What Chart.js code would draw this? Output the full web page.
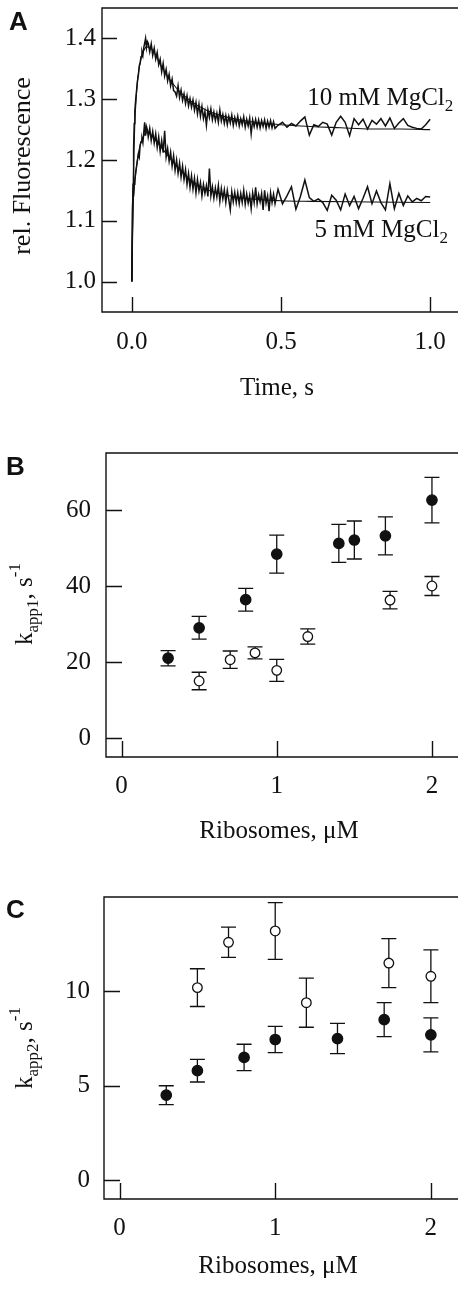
<!DOCTYPE html>
<html>
<head>
<meta charset="utf-8">
<script src="https://cdn.jsdelivr.net/npm/chart.js@4.4.0/dist/chart.umd.min.js"></script>
<style>
html, body { margin: 0; padding: 0; background: #fff; overflow: hidden; width: 458px; height: 1290px; position: relative; }
canvas { position: absolute; left: 0; }
</style>
</head>
<body>
<canvas id="chartA" width="470" height="420" style="top:0"></canvas>
<canvas id="chartB" width="470" height="430" style="top:420px"></canvas>
<canvas id="chartC" width="470" height="440" style="top:850px"></canvas>
<script>
"use strict";

// ---- panel A: stopped-flow traces ----
var rawTime = [0, 0.002, 0.004, 0.006, 0.008, 0.010, 0.013, 0.016, 0.019, 0.022,
    0.025, 0.028, 0.031, 0.034, 0.037, 0.040, 0.043, 0.046, 0.049, 0.052,
    0.055, 0.060, 0.065, 0.070, 0.075, 0.080, 0.085, 0.090, 0.095, 0.100,
    0.105, 0.110, 0.115, 0.120, 0.125, 0.130, 0.135, 0.140, 0.145, 0.150,
    0.155, 0.160, 0.165, 0.170, 0.175, 0.180, 0.185, 0.190, 0.195, 0.200,
    0.205, 0.210, 0.215, 0.220, 0.225, 0.230, 0.235, 0.240, 0.245, 0.250,
    0.255, 0.260, 0.265, 0.270, 0.275, 0.280, 0.285, 0.290, 0.295, 0.300,
    0.305, 0.310, 0.315, 0.320, 0.325, 0.330, 0.335, 0.340, 0.345, 0.350,
    0.355, 0.360, 0.365, 0.370, 0.375, 0.380, 0.385, 0.390, 0.395, 0.400,
    0.405, 0.410, 0.415, 0.420, 0.425, 0.430, 0.435, 0.440, 0.445, 0.450,
    0.455, 0.460, 0.465, 0.470, 0.475, 0.480,
    0.490, 0.505, 0.520, 0.535, 0.550, 0.565, 0.580, 0.595, 0.610, 0.625,
    0.640, 0.655, 0.670, 0.685, 0.700, 0.715, 0.730, 0.745, 0.760, 0.775,
    0.790, 0.805, 0.820, 0.835, 0.850, 0.865, 0.880, 0.895, 0.910, 0.925,
    0.940, 0.955, 0.970, 0.985, 1.000];

var raw10 = [1.000, 1.080, 1.160, 1.220, 1.260, 1.280, 1.300, 1.315, 1.330, 1.340,
    1.355, 1.360, 1.370, 1.378, 1.372, 1.385, 1.392, 1.400, 1.385, 1.395,
    1.392, 1.378, 1.391, 1.372, 1.384, 1.366, 1.377, 1.357, 1.366, 1.345,
    1.359, 1.338, 1.349, 1.330, 1.341, 1.322, 1.333, 1.314, 1.312, 1.305,
    1.322, 1.303, 1.315, 1.298, 1.309, 1.293, 1.306, 1.289, 1.301, 1.287,
    1.299, 1.282, 1.295, 1.276, 1.292, 1.272, 1.288, 1.268, 1.280, 1.257,
    1.283, 1.270, 1.284, 1.266, 1.279, 1.265, 1.277, 1.262, 1.282, 1.264,
    1.275, 1.260, 1.273, 1.258, 1.272, 1.261, 1.274, 1.257, 1.270, 1.259,
    1.272, 1.256, 1.268, 1.258, 1.271, 1.254, 1.267, 1.256, 1.269, 1.243,
    1.266, 1.255, 1.267, 1.254, 1.266, 1.253, 1.265, 1.255, 1.266, 1.252,
    1.264, 1.254, 1.265, 1.253, 1.263, 1.252,
    1.257, 1.262, 1.254, 1.260, 1.256, 1.264, 1.271, 1.241, 1.258, 1.255,
    1.262, 1.259, 1.241, 1.262, 1.272, 1.262, 1.240, 1.268, 1.258, 1.267,
    1.251, 1.265, 1.259, 1.268, 1.256, 1.269, 1.252, 1.261, 1.268, 1.257,
    1.254, 1.252, 1.251, 1.258, 1.267];

var raw5 = [1.000, 1.120, 1.145, 1.140, 1.160, 1.165, 1.180, 1.190, 1.200, 1.210,
    1.205, 1.225, 1.230, 1.235, 1.228, 1.245, 1.262, 1.240, 1.255, 1.250,
    1.238, 1.252, 1.232, 1.247, 1.228, 1.243, 1.221, 1.238, 1.214, 1.232,
    1.212, 1.248, 1.205, 1.219, 1.198, 1.213, 1.190, 1.207, 1.183, 1.200,
    1.178, 1.195, 1.172, 1.190, 1.168, 1.184, 1.160, 1.178, 1.155, 1.174,
    1.152, 1.170, 1.146, 1.168, 1.149, 1.163, 1.141, 1.160, 1.145, 1.158,
    1.140, 1.186, 1.141, 1.156, 1.137, 1.154, 1.139, 1.158, 1.132, 1.153,
    1.136, 1.151, 1.130, 1.150, 1.135, 1.118, 1.148, 1.131, 1.147, 1.130,
    1.146, 1.128, 1.145, 1.130, 1.150, 1.127, 1.144, 1.129, 1.142, 1.120,
    1.146, 1.130, 1.155, 1.128, 1.143, 1.131, 1.145, 1.118, 1.150, 1.129,
    1.141, 1.116, 1.146, 1.130, 1.144, 1.128,
    1.152, 1.128, 1.141, 1.156, 1.119, 1.140, 1.167, 1.138, 1.132, 1.136,
    1.130, 1.117, 1.142, 1.134, 1.118, 1.144, 1.125, 1.140, 1.120, 1.137,
    1.156, 1.128, 1.149, 1.130, 1.118, 1.161, 1.120, 1.145, 1.125, 1.141,
    1.131, 1.137, 1.133, 1.140, 1.139];

var fitTime10 = [0, 0.005, 0.01, 0.015, 0.02, 0.03, 0.04, 0.05, 0.06, 0.07, 0.1, 0.15,
    0.2, 0.25, 0.3, 0.35, 0.4, 0.45, 0.5, 0.6, 0.7, 0.8, 0.9, 1.0];
var fit10 = [1.0, 1.17, 1.26, 1.305, 1.335, 1.365, 1.38, 1.386, 1.385, 1.381, 1.353, 1.318,
    1.296, 1.282, 1.273, 1.267, 1.263, 1.26, 1.258, 1.255, 1.253, 1.251, 1.251, 1.25];
var fitTime5 = [0, 0.003, 0.006, 0.01, 0.02, 0.03, 0.04, 0.05, 0.06, 0.07, 0.1, 0.15,
    0.2, 0.25, 0.3, 0.35, 0.4, 0.5, 0.6, 0.8, 1.0];
var fit5 = [1.0, 1.11, 1.145, 1.165, 1.205, 1.228, 1.24, 1.245, 1.243, 1.238, 1.22, 1.19,
    1.166, 1.152, 1.144, 1.139, 1.136, 1.133, 1.132, 1.131, 1.13];

var ticksTimeA = [0, 0.5, 1.0];
var ticksFluoA = [1.0, 1.1, 1.2, 1.3, 1.4];

// ---- panel B: kapp1 vs ribosomes ----
var riboFilledB = [0.3, 0.5, 0.8, 1.0, 1.4, 1.5, 1.7, 2.0];
var kapp1Filled = [21, 29, 36.4, 48.4, 51.2, 52.1, 53.2, 62.6];
var kapp1FilledErr = [2, 3, 3, 5, 5, 5, 5, 6];
var riboOpenB = [0.5, 0.7, 0.86, 1.0, 1.2, 1.73, 2.0];
var kapp1Open = [15, 20.6, 22.4, 17.8, 26.7, 36.3, 40];
var kapp1OpenErr = [2.3, 2.3, 1.6, 2.9, 2, 2.3, 2.5];
var ticksRibo = [0, 1, 2];
var ticksKapp1 = [0, 20, 40, 60];

// ---- panel C: kapp2 vs ribosomes ----
var riboFilledC = [0.3, 0.5, 0.8, 1.0, 1.4, 1.7, 2.0];
var kapp2Filled = [4.5, 5.8, 6.5, 7.45, 7.5, 8.5, 7.7];
var kapp2FilledErr = [0.5, 0.6, 0.7, 0.7, 0.8, 0.9, 0.9];
var riboOpenC = [0.5, 0.7, 1.0, 1.2, 1.73, 2.0];
var kapp2Open = [10.2, 12.6, 13.2, 9.4, 11.5, 10.8];
var kapp2OpenErr = [1.0, 0.8, 1.5, 1.3, 1.3, 1.4];
var ticksKapp2 = [0, 5, 10];

var INK = '#111';
var SERIF = '"Liberation Serif", "Times New Roman", serif';

Chart.defaults.font.family = SERIF;
Chart.defaults.color = INK;

function pairs(xs, ys) {
    return xs.map(function (x, i) { return {x: x, y: ys[i]}; });
}

function drawRich(ctx, parts, x, y, align) {
    var total = 0;
    parts.forEach(function (p) {
        ctx.font = p[1] + 'px ' + SERIF;
        total += ctx.measureText(p[0]).width;
    });
    var cx = align === 'center' ? x - total / 2 : x;
    parts.forEach(function (p) {
        ctx.font = p[1] + 'px ' + SERIF;
        ctx.fillText(p[0], cx, y + p[2]);
        cx += ctx.measureText(p[0]).width;
    });
}

// axis frame with inward ticks, error bars and all free text
function panelPlugin(cfg) {
    return {
        id: 'panel',
        beforeDatasetsDraw: function (chart) {
            var ctx = chart.ctx;
            var xs = chart.scales.x, ys = chart.scales.y;
            ctx.save();
            ctx.strokeStyle = INK;
            ctx.lineWidth = 1.3;
            chart.data.datasets.forEach(function (ds) {
                if (!ds.errors) return;
                ds.data.forEach(function (p, i) {
                    var px = xs.getPixelForValue(p.x);
                    var y1 = ys.getPixelForValue(p.y + ds.errors[i]);
                    var y2 = ys.getPixelForValue(p.y - ds.errors[i]);
                    ctx.beginPath();
                    ctx.moveTo(px, y1); ctx.lineTo(px, y2);
                    ctx.moveTo(px - 7.5, y1); ctx.lineTo(px + 7.5, y1);
                    ctx.moveTo(px - 7.5, y2); ctx.lineTo(px + 7.5, y2);
                    ctx.stroke();
                });
            });
            ctx.restore();
        },
        afterDraw: function (chart) {
            var ctx = chart.ctx, a = chart.chartArea;
            var xs = chart.scales.x, ys = chart.scales.y;
            ctx.save();
            ctx.strokeStyle = INK;
            ctx.lineWidth = 1.4;
            ctx.beginPath();
            ctx.rect(a.left, a.top, a.right - a.left, a.bottom - a.top);
            ys.ticks.forEach(function (t) {
                var y = Math.round(ys.getPixelForValue(t.value)) + 0.5;
                ctx.moveTo(a.left, y); ctx.lineTo(a.left + cfg.tick, y);
            });
            xs.ticks.forEach(function (t) {
                var x = Math.round(xs.getPixelForValue(t.value)) + 0.5;
                ctx.moveTo(x, a.bottom); ctx.lineTo(x, a.bottom - cfg.tick);
            });
            ctx.stroke();

            ctx.fillStyle = INK;
            ctx.textBaseline = 'alphabetic';
            ctx.textAlign = 'left';
            ctx.font = 'bold 26px "Liberation Sans", Arial, sans-serif';
            ctx.fillText(cfg.letter[0], cfg.letter[1], cfg.letter[2]);

            drawRich(ctx, cfg.xTitle.parts, cfg.xTitle.x, cfg.xTitle.y, 'center');

            ctx.save();
            ctx.translate(cfg.yTitle.x, cfg.yTitle.y);
            ctx.rotate(-Math.PI / 2);
            drawRich(ctx, cfg.yTitle.parts, 0, 0, 'center');
            ctx.restore();

            (cfg.notes || []).forEach(function (n) {
                drawRich(ctx, n.parts, xs.getPixelForValue(n.x), ys.getPixelForValue(n.y), 'left');
            });
            ctx.restore();
        }
    };
}

function axis(min, max, tickValues, decimals, opts) {
    return {
        type: 'linear',
        min: min,
        max: max,
        grid: {display: false, drawTicks: false},
        border: {display: false},
        ticks: {
            font: {size: 25, family: SERIF},
            color: INK,
            padding: opts.padding,
            callback: function (v) { return decimals ? v.toFixed(decimals) : String(v); }
        },
        afterBuildTicks: function (scale) {
            scale.ticks = tickValues.map(function (v) { return {value: v}; });
        },
        afterFit: function (scale) {
            if (opts.width) scale.width = opts.width;
            if (opts.height) scale.height = opts.height;
            scale.paddingTop = 0; scale.paddingBottom = 0;
            scale.paddingLeft = 0; scale.paddingRight = 0;
        }
    };
}

function baseOptions(scales, pad) {
    return {
        responsive: false,
        animation: false,
        devicePixelRatio: 1,
        layout: {padding: pad},
        plugins: {legend: {display: false}, tooltip: {enabled: false}},
        scales: scales
    };
}

function traceSet(xs, ys, width, smooth) {
    return {
        data: pairs(xs, ys),
        borderColor: INK,
        borderWidth: width,
        pointRadius: 0,
        fill: false,
        tension: 0,
        cubicInterpolationMode: smooth ? 'monotone' : 'default'
    };
}

function pointSet(xs, ys, errs, filled) {
    return {
        data: pairs(xs, ys),
        errors: errs,
        pointStyle: 'circle',
        pointRadius: filled ? 5.2 : 4.8,
        pointBorderWidth: 1.3,
        pointBackgroundColor: filled ? INK : '#fff',
        pointBorderColor: INK,
        showLine: false
    };
}

new Chart(document.getElementById('chartA'), {
    type: 'line',
    data: {datasets: [
        traceSet(fitTime10, fit10, 1.1, true),
        traceSet(fitTime5, fit5, 1.1, true),
        traceSet(rawTime, raw10, 1.5, false),
        traceSet(rawTime, raw5, 1.5, false)
    ]},
    options: baseOptions({
        x: axis(-0.1, 1.1, ticksTimeA, 1, {height: 60, padding: 15}),
        y: axis(0.95, 1.45, ticksFluoA, 1, {width: 102, padding: 6})
    }, {left: 0, top: 8, right: 10, bottom: 48}),
    plugins: [panelPlugin({
        tick: 15,
        letter: ['A', 9, 30],
        xTitle: {x: 277, y: 395, parts: [['Time, s', 25, 0]]},
        yTitle: {x: 30, y: 166, parts: [['rel. Fluorescence', 26, 0]]},
        notes: [
            {x: 0.588, y: 1.291, parts: [['10 mM MgCl', 25, 0], ['2', 17, 6]]},
            {x: 0.612, y: 1.074, parts: [['5 mM MgCl', 25, 0], ['2', 17, 6]]}
        ]
    })]
});

new Chart(document.getElementById('chartB'), {
    type: 'scatter',
    data: {datasets: [
        pointSet(riboFilledB, kapp1Filled, kapp1FilledErr, true),
        pointSet(riboOpenB, kapp1Open, kapp1OpenErr, false)
    ]},
    options: baseOptions({
        x: axis(-0.1, 2.2, ticksRibo, 0, {height: 60, padding: 14}),
        y: axis(-5, 75, ticksKapp1, 0, {width: 106, padding: 15})
    }, {left: 0, top: 33, right: 7, bottom: 33}),
    plugins: [panelPlugin({
        tick: 16,
        letter: ['B', 6, 55],
        xTitle: {x: 279, y: 418, parts: [['Ribosomes, \u03bcM', 25, 0]]},
        yTitle: {x: 32, y: 184, parts: [['k', 25, 0], ['app1', 17, 6], [', s', 25, 0], ['-1', 17, -12]]}
    })]
});

new Chart(document.getElementById('chartC'), {
    type: 'scatter',
    data: {datasets: [
        pointSet(riboFilledC, kapp2Filled, kapp2FilledErr, true),
        pointSet(riboOpenC, kapp2Open, kapp2OpenErr, false)
    ]},
    options: baseOptions({
        x: axis(-0.1, 2.2, ticksRibo, 0, {height: 60, padding: 14}),
        y: axis(-1, 15, ticksKapp2, 0, {width: 104, padding: 14})
    }, {left: 0, top: 47, right: 8, bottom: 31}),
    plugins: [panelPlugin({
        tick: 16,
        letter: ['C', 6, 68],
        xTitle: {x: 278, y: 423, parts: [['Ribosomes, \u03bcM', 25, 0]]},
        yTitle: {x: 32, y: 198, parts: [['k', 25, 0], ['app2', 17, 6], [', s', 25, 0], ['-1', 17, -12]]}
    })]
});
</script>
</body>
</html>
